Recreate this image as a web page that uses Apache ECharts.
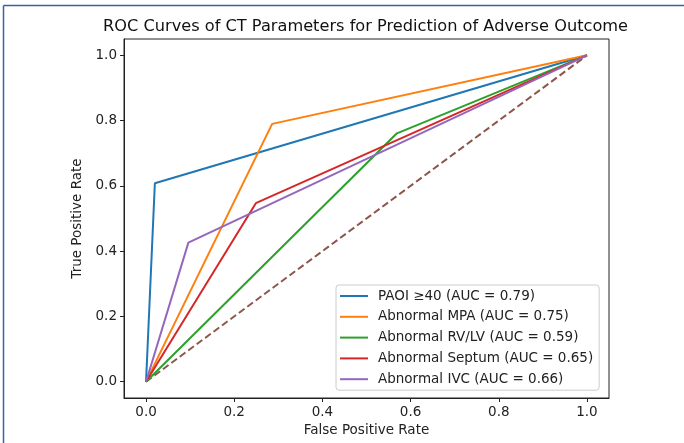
<!DOCTYPE html>
<html>
<head>
<meta charset="utf-8">
<script src="https://cdn.jsdelivr.net/npm/echarts@6/dist/echarts.min.js"></script>
<style>
html,body{margin:0;padding:0;background:#fff;}
#chart{width:684px;height:443px;}
</style>
</head>
<body>
<div id="chart"></div>
<script>
// Data
const seriesNames = [
  "PAOI \u226540 (AUC = 0.79)",
  "Abnormal MPA (AUC = 0.75)",
  "Abnormal RV/LV (AUC = 0.59)",
  "Abnormal Septum (AUC = 0.65)",
  "Abnormal IVC (AUC = 0.66)"
];
const fprPAOI = [0, 0.02, 1];
const tprPAOI = [0, 0.608, 1];
const fprMPA = [0, 0.286, 1];
const tprMPA = [0, 0.79, 1];
const fprRVLV = [0, 0.569, 1];
const tprRVLV = [0, 0.761, 1];
const fprSeptum = [0, 0.249, 1];
const tprSeptum = [0, 0.547, 1];
const fprIVC = [0, 0.096, 1];
const tprIVC = [0, 0.426, 1];
const chanceX = [0, 1];
const chanceY = [0, 1];
const tickValues = [0, 0.2, 0.4, 0.6, 0.8, 1.0];

const colors = ["#1f77b4", "#ff7f0e", "#2ca02c", "#d62728", "#9467bd"];
const curves = [
  [fprPAOI, tprPAOI],
  [fprMPA, tprMPA],
  [fprRVLV, tprRVLV],
  [fprSeptum, tprSeptum],
  [fprIVC, tprIVC]
];
const zip = (xs, ys) => xs.map((x, i) => [x, ys[i]]);

const font = "DejaVu Sans";
const chart = echarts.init(document.getElementById('chart'), null, {renderer: 'canvas'});

const series = curves.map((c, i) => ({
  name: seriesNames[i],
  type: 'line',
  data: zip(c[0], c[1]),
  showSymbol: false,
  symbol: 'none',
  lineStyle: {color: colors[i], width: 2},
  itemStyle: {color: colors[i]},
  animation: false,
  z: 3
}));
series.push({
  name: 'chance',
  type: 'line',
  data: zip(chanceX, chanceY),
  showSymbol: false,
  symbol: 'none',
  lineStyle: {color: '#8c564b', width: 2, type: [7, 3.5]},
  animation: false,
  z: 2
});

const axisCommon = {
  type: 'value',
  min: -0.05,
  max: 1.05,
  splitLine: {show: false},
  axisLine: {show: true, onZero: false, lineStyle: {color: '#222', width: 1}},
  axisTick: {show: true, length: 4, lineStyle: {color: '#222'}, customValues: tickValues},
  axisLabel: {
    customValues: tickValues,
    formatter: v => v.toFixed(1),
    color: '#222', fontFamily: font, fontSize: 13.5, margin: 7
  },
  nameLocation: 'middle',
  nameTextStyle: {color: '#222', fontFamily: font, fontSize: 13.5}
};

chart.setOption({
  animation: false,
  backgroundColor: '#fff',
  title: {
    text: 'ROC Curves of CT Parameters for Prediction of Adverse Outcome',
    left: 98, top: 14,
    textStyle: {fontFamily: font, fontSize: 16.2, fontWeight: 'normal', color: '#111'}
  },
  grid: {left: 124, right: 75, top: 39, bottom: 45, show: true, borderColor: '#222', borderWidth: 1, backgroundColor: 'transparent'},
  xAxis: Object.assign({}, axisCommon, {name: 'False Positive Rate', nameGap: 25}),
  yAxis: Object.assign({}, axisCommon, {name: 'True Positive Rate', nameGap: 37}),
  legend: {
    data: seriesNames,
    orient: 'vertical',
    left: 336, top: 285,
    backgroundColor: '#fff',
    borderColor: '#cccccc',
    borderWidth: 1,
    borderRadius: 3,
    padding: [3, 6, 3, 4],
    itemWidth: 28,
    itemHeight: 2,
    itemGap: 4.8,
    icon: 'rect',
    textStyle: {fontFamily: font, fontSize: 13.5, color: '#222', lineHeight: 16, padding: [0, 0, 0, 5]},
    selectedMode: false
  },
  graphic: [
    {type: 'line', shape: {x1: 3.5, y1: 5.5, x2: 684, y2: 5.5}, style: {stroke: '#3a5fa8', lineWidth: 1.5}, silent: true},
    {type: 'line', shape: {x1: 3.5, y1: 5.5, x2: 3.5, y2: 443}, style: {stroke: '#3a5fa8', lineWidth: 1.5}, silent: true}
  ],
  series: series
});
</script>
</body>
</html>
